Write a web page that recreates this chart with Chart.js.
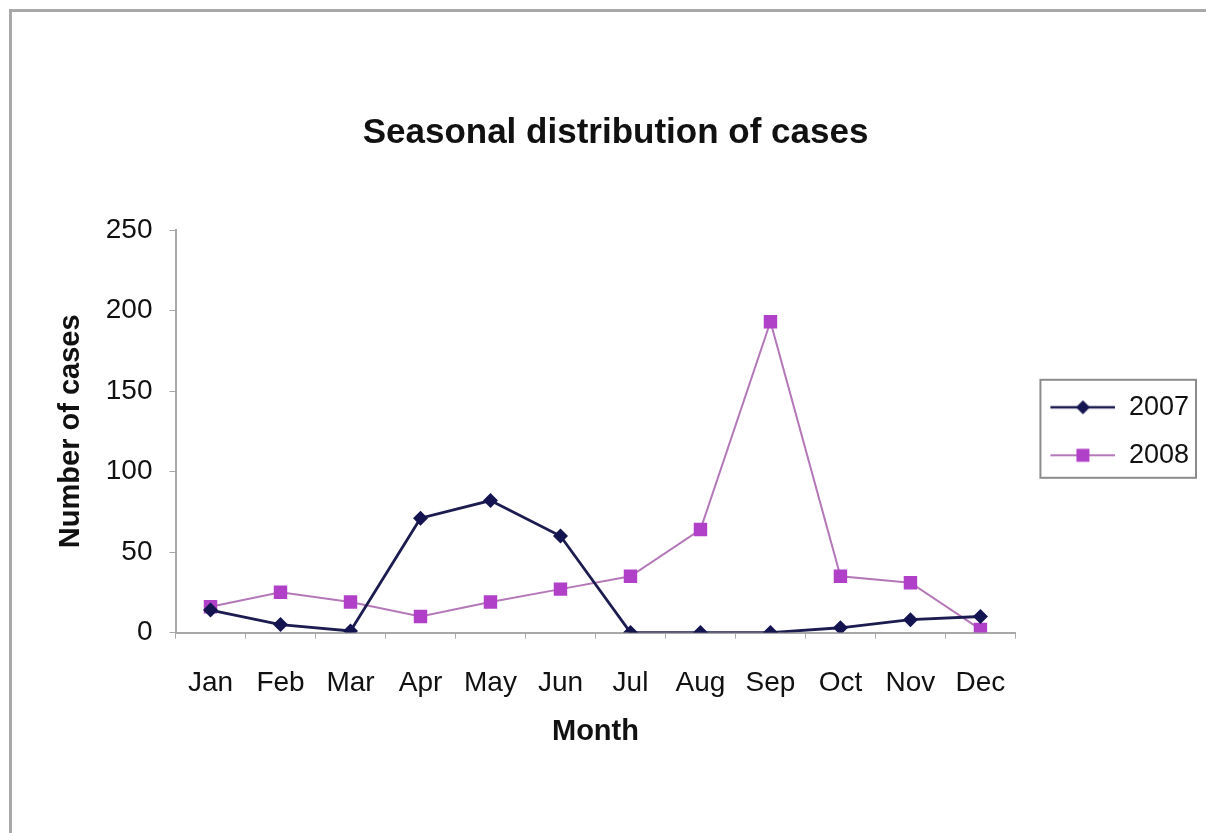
<!DOCTYPE html>
<html>
<head>
<meta charset="utf-8">
<script src="https://cdn.jsdelivr.net/npm/chart.js@4"></script>
<style>
    body { margin: 0; background: #fff; }
    #frame { position: absolute; left: 9px; top: 9px; width: 1300px; height: 900px;
             border-top: 3px solid #a8a8a8; border-left: 3px solid #a8a8a8; }
    #chart1 { position: absolute; left: 0; top: 0; }
</style>
</head>
<body>
<div id="frame"></div>
<canvas id="chart1" width="1206" height="833"></canvas>
<script>
const months = ['Jan', 'Feb', 'Mar', 'Apr', 'May', 'Jun', 'Jul', 'Aug', 'Sep', 'Oct', 'Nov', 'Dec'];
const cases2007 = [14, 5, 1, 71, 82, 60, 0, 0, 0, 3, 8, 10];
const cases2008 = [16, 25, 19, 10, 19, 27, 35, 64, 193, 35, 31, 2];
const yTicks = [0, 50, 100, 150, 200, 250];

const FONT = "'Liberation Sans', Arial, sans-serif";

// legend swatch: short line with the marker in the middle
function swatch(lineColor, lineWidth, markColor, shape) {
    const c = document.createElement('canvas');
    c.width = 79;
    c.height = 22;
    const g = c.getContext('2d');
    g.strokeStyle = lineColor;
    g.lineWidth = lineWidth;
    g.beginPath();
    g.moveTo(14, 11);
    g.lineTo(79, 11);
    g.stroke();
    g.fillStyle = markColor;
    g.beginPath();
    if (shape === 'diamond') {
        g.moveTo(46.5 - 7, 11); g.lineTo(46.5, 4); g.lineTo(46.5 + 7, 11); g.lineTo(46.5, 18);
    } else {
        g.rect(46.5 - 6.5, 4.5, 13, 13);
    }
    g.closePath();
    g.fill();
    return c;
}

const swatches = [
    swatch('#1c1c50', 2.5, '#141450', 'diamond'),
    swatch('#b478b8', 2, '#b040c8', 'square')
];

const legendBorder = {
    id: 'legendBorder',
    afterDraw(chart) {
        const boxes = chart.legend.legendHitBoxes;
        if (!boxes || !boxes.length) return;
        const first = boxes[0], last = boxes[boxes.length - 1];
        const ctx = chart.ctx;
        ctx.save();
        ctx.strokeStyle = '#8c8c8c';
        ctx.lineWidth = 2;
        const x = first.left + 4;
        const y = first.top - 14;
        const w = Math.max(first.width, last.width) + 3;
        const h = last.top + last.height + 9 - y;
        ctx.strokeRect(x, y, w, h);
        ctx.restore();
    }
};

const chart1Ctx = document.getElementById("chart1").getContext("2d");
const chart1 = new Chart(chart1Ctx, {
    type: 'line',
    data: {
        labels: months,
        datasets: [{
            label: '2007',
            data: cases2007,
            borderColor: '#1c1c50',
            borderWidth: 2.8,
            pointStyle: 'rectRot',
            pointRadius: 7.5,
            pointBackgroundColor: '#141450',
            pointBorderWidth: 0,
            tension: 0
        }, {
            label: '2008',
            data: cases2008,
            borderColor: '#b478b8',
            borderWidth: 2,
            pointStyle: 'rect',
            pointRadius: 9.5,
            pointBackgroundColor: '#b040c8',
            pointBorderWidth: 0,
            tension: 0
        }]
    },
    options: {
        responsive: false,
        animation: false,
        layout: { padding: { top: 100, left: 32, right: 7, bottom: 84 } },
        plugins: {
            title: {
                display: true,
                text: 'Seasonal distribution of cases',
                color: '#111',
                font: { family: FONT, size: 35, weight: 'bold' },
                padding: { top: 12, bottom: 76 }
            },
            legend: {
                display: true,
                position: 'right',
                fullSize: false,
                labels: {
                    usePointStyle: true,
                    pointStyleWidth: 79,
                    padding: 21,
                    color: '#111',
                    font: { family: FONT, size: 27 },
                    generateLabels(chart) {
                        const items = Chart.defaults.plugins.legend.labels.generateLabels(chart);
                        items.forEach((it, i) => { it.pointStyle = swatches[i]; });
                        return items;
                    }
                }
            },
            tooltip: { enabled: false }
        },
        scales: {
            x: {
                offset: true,
                grid: { offset: true, drawOnChartArea: false, drawTicks: true, tickLength: 6, color: '#a8a8a8' },
                border: { color: '#a8a8a8', width: 2 },
                ticks: { color: '#111', padding: 28, font: { family: FONT, size: 28 } },
                title: {
                    display: true, text: 'Month', color: '#111',
                    font: { family: FONT, size: 29, weight: 'bold' },
                    padding: { top: -14, bottom: 0 }
                }
            },
            y: {
                min: yTicks[0],
                max: yTicks[yTicks.length - 1],
                afterBuildTicks(scale) { scale.ticks = yTicks.map(v => ({ value: v })); },
                grid: { drawOnChartArea: false, drawTicks: true, tickLength: 6, color: '#a8a8a8' },
                border: { color: '#a8a8a8', width: 2 },
                ticks: { color: '#111', padding: 17, font: { family: FONT, size: 28 } },
                title: {
                    display: true, text: 'Number of cases', color: '#111',
                    font: { family: FONT, size: 29, weight: 'bold' },
                    padding: { top: 22, bottom: 0 }
                }
            }
        }
    },
    plugins: [legendBorder]
});
</script>
</body>
</html>
